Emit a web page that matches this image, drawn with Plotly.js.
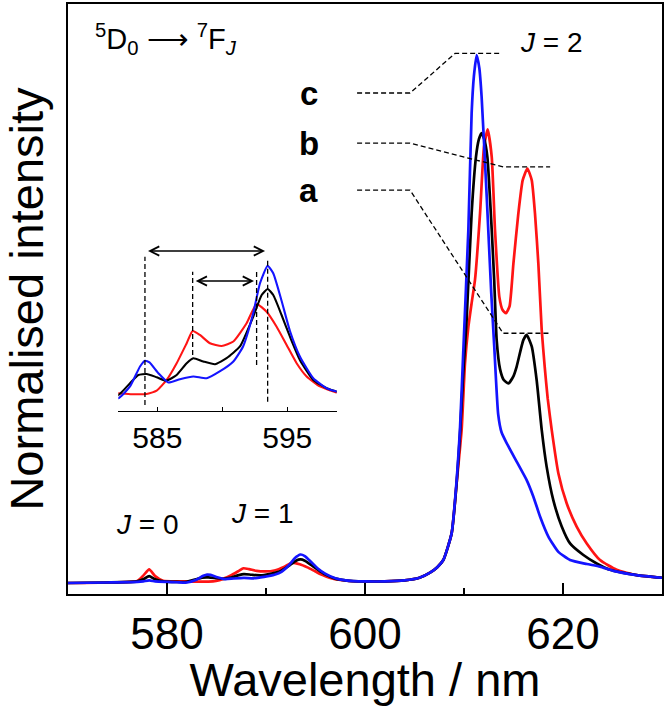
<!DOCTYPE html>
<html><head><meta charset="utf-8">
<script src="https://cdn.plot.ly/plotly-3.0.1.min.js"></script>
<style>html,body{margin:0;padding:0;background:#fff;}#chart{width:666px;height:706px;}</style>
</head><body><div id="chart"></div>
<script>
// ---- data ----
// sample c (blue)
const wlC = [570,574,577.0,577.6,578.2,578.8,580.0,581.0,582.0,582.9,583.67,584.05,584.4,585.08,585.85,586.74,587.77,588.8,589.8,590.85,591.6,592.38,592.9,593.49,593.92,594.56,595.2,595.97,597.0,598.03,598.8,600,602,604,605.5,606.57,607.3,607.91,608.75,609.26,609.59,609.93,610.44,610.77,611.0,611.28,611.55,611.78,612.3,612.75,613.05,613.45,613.8,614.31,615.32,616.33,617.0,617.68,618.52,619.53,620.71,622.4,623.74,625.09,627.44,630];
const intC = [0.000,0.001,0.002,0.003,0.005,0.003,0.002,0.0015,0.001,0.0057,0.0137,0.016,0.0153,0.011,0.0073,0.0086,0.0097,0.009,0.0117,0.0157,0.0217,0.035,0.047,0.054,0.051,0.040,0.028,0.0177,0.009,0.005,0.0037,0.003,0.003,0.005,0.010,0.0196,0.03,0.0436,0.094,0.195,0.29,0.44,0.669,0.889,0.96,1.0,0.975,0.921,0.73,0.55,0.45,0.32,0.285,0.265,0.230,0.195,0.164,0.126,0.088,0.059,0.0436,0.036,0.031,0.023,0.015,0.010];
// sample a (black)
const wlA = [570,574,577.0,577.6,578.2,578.8,579.6,581,582.0,582.9,583.54,584.18,584.95,585.7,586.49,587.26,587.77,588.54,589.44,590.33,591.36,592.38,593.03,593.49,593.92,594.56,595.2,595.97,597.0,598.03,598.8,600,602,604,605.5,606.57,607.3,607.91,608.75,609.26,609.59,609.93,610.27,610.77,611.21,611.5,611.78,612.05,612.36,612.8,613.05,613.3,613.64,614.0,614.48,615.0,615.32,615.99,616.33,616.84,617.34,617.85,618.35,619.02,619.87,620.71,622.06,623.4,624.75,627.44,630];
const intA = [0.000,0.001,0.003,0.007,0.013,0.007,0.003,0.002,0.0023,0.007,0.0103,0.0107,0.0094,0.008,0.0103,0.015,0.017,0.0157,0.0146,0.017,0.0217,0.0336,0.0423,0.0447,0.0423,0.0343,0.0257,0.0163,0.0083,0.005,0.0037,0.003,0.003,0.005,0.010,0.0196,0.03,0.0436,0.094,0.19,0.28,0.40,0.50,0.70,0.807,0.84,0.852,0.84,0.807,0.669,0.574,0.46,0.405,0.385,0.378,0.392,0.41,0.46,0.470,0.448,0.384,0.29,0.22,0.157,0.107,0.075,0.053,0.037,0.025,0.015,0.010];
// sample b (red)
const wlB = [570,574,577.0,577.6,578.2,578.8,579.6,581,582.0,583.15,584.18,584.95,585.72,586.49,587.26,587.72,588.28,589.05,589.95,590.85,591.87,592.64,593.41,594.18,594.95,595.72,596.49,597.51,598.8,600,602,604,605.5,606.57,607.3,607.91,608.75,609.26,609.76,610.1,610.44,610.77,611.11,611.62,612.02,612.39,612.8,613.13,613.57,613.9,614.24,614.6,614.99,615.49,615.93,616.4,616.84,617.17,617.51,617.85,618.15,618.45,618.86,619.53,620.37,621.38,622.4,623.74,625.42,627.44,630];
const intB = [0.000,0.001,0.004,0.014,0.026,0.013,0.004,0.003,0.003,0.0026,0.0027,0.004,0.0083,0.015,0.023,0.0279,0.0263,0.023,0.0219,0.0237,0.031,0.0387,0.0356,0.0296,0.0223,0.015,0.0097,0.0057,0.0033,0.003,0.003,0.005,0.010,0.0196,0.03,0.0436,0.094,0.19,0.29,0.416,0.485,0.53,0.574,0.70,0.826,0.859,0.807,0.669,0.542,0.517,0.511,0.524,0.605,0.70,0.763,0.785,0.763,0.70,0.605,0.479,0.41,0.35,0.29,0.208,0.151,0.107,0.075,0.0436,0.025,0.015,0.010];

// tick labels
const mainTicks = [580, 600, 620];
const mainMinorTicks = [590, 610];
const insetTicks = [585, 595];
const insetMinorTicks = [590];

// annotation texts
const sampleLabels = ['c', 'b', 'a'];
const bandLabels = ['<i>J</i> = 0', '<i>J</i> = 1', '<i>J</i> = 2'];
const transitionLabel = '<sup>5</sup>D<sub>0</sub> \u27F6 <sup>7</sup>F<sub><i>J</i></sub>';

// leader lines (c, b, a)
const leaderStartX = [599.2, 599.2, 599.2];
const leaderBendX = [604.55, 604.55, 604.55];
const leaderDiagEndX = [609.1, 613.95, 613.95];
const leaderEndX = [613.65, 618.7, 618.7];
const leaderLevels = [0.928, 0.833, 0.744];

// ---- helpers ----
function peak(xs, ys, lo, hi) {
  let bx = null, by = -Infinity;
  for (let i = 0; i < xs.length; i++) if (xs[i] >= lo && xs[i] <= hi && ys[i] > by) { by = ys[i]; bx = xs[i]; }
  return [bx, by];
}

const RED = '#ff1414', BLUE = '#1414ff', BLACK = '#000000';
const series = [
  {x: wlB, y: intB, color: RED},
  {x: wlA, y: intA, color: BLACK},
  {x: wlC, y: intC, color: BLUE}
];

const traces = [];
series.forEach(s => traces.push({x: s.x, y: s.y, type: 'scatter', mode: 'lines',
  line: {color: s.color, width: 2.7, shape: 'spline', smoothing: 0.5}, hoverinfo: 'skip', xaxis: 'x', yaxis: 'y'}));
series.forEach(s => traces.push({x: s.x, y: s.y, type: 'scatter', mode: 'lines',
  line: {color: s.color, width: 2.1, shape: 'spline', smoothing: 0.5}, hoverinfo: 'skip', xaxis: 'x2', yaxis: 'y2'}));

// peak levels for leader ends
const peakLevels = [
  peak(wlC, intC, 605, 630)[1],
  peak(wlB, intB, 615, 630)[1],
  peak(wlA, intA, 615, 630)[1]
];

const shapes = [];
const annotations = [];
const DASH = '5px,3px';
for (let i = 0; i < 3; i++) {
  const lvl = peakLevels[i] + 0.003;
  shapes.push({type: 'path', xref: 'x', yref: 'y',
    path: `M${leaderStartX[i]},${leaderLevels[i]} L${leaderBendX[i]},${leaderLevels[i]} L${leaderDiagEndX[i]},${lvl} L${leaderEndX[i]},${lvl}`,
    line: {color: '#000', width: 1.3, dash: DASH}});
  annotations.push({xref: 'x', yref: 'y', x: 594.3, y: leaderLevels[i], text: '<b>' + sampleLabels[i] + '</b>',
    showarrow: false, xanchor: 'center', yanchor: 'middle', font: {size: 33, color: '#000'}});
}

// inset markers
const insetLineX = [
  peak(wlC, intC, 583, 585.5)[0],
  peak(wlB, intB, 586, 589)[0],
  peak(wlB, intB, 591, 594.5)[0],
  peak(wlC, intC, 591, 595)[0]
];
const insetLineTop = [0.0576, 0.0516, 0.0516, 0.057];
const insetLineBottom = [-0.0017, 0.0183, 0.0143, -0.0004];
for (let i = 0; i < 4; i++) {
  shapes.push({type: 'line', xref: 'x2', yref: 'y2', x0: insetLineX[i], x1: insetLineX[i],
    y0: insetLineBottom[i], y1: insetLineTop[i], line: {color: '#000', width: 1.3, dash: DASH}});
}
const arrowLevels = [0.0599, 0.0479];
const arrowPairs = [[0, 3], [1, 2]];
arrowPairs.forEach((p, k) => {
  annotations.push({xref: 'x2', yref: 'y2', axref: 'x2', ayref: 'y2',
    x: insetLineX[p[1]] - 0.2, y: arrowLevels[k], ax: insetLineX[p[0]] + 0.12, ay: arrowLevels[k],
    text: '', showarrow: true, arrowhead: 5, startarrowhead: 5, arrowside: 'end+start',
    arrowsize: 1.3, startarrowsize: 1.3, arrowwidth: 1.4, arrowcolor: '#000', standoff: 0, startstandoff: 0});
});

// text labels
annotations.push({xref: 'paper', yref: 'paper', x: 0.042, y: 0.94, xanchor: 'left', yanchor: 'middle',
  text: transitionLabel, showarrow: false, font: {size: 29, color: '#000'}});
annotations.push({xref: 'paper', yref: 'paper', x: 0.133, y: 0.118, text: bandLabels[0], showarrow: false,
  xanchor: 'center', yanchor: 'middle', font: {size: 28, color: '#000'}});
annotations.push({xref: 'paper', yref: 'paper', x: 0.327, y: 0.1356, text: bandLabels[1], showarrow: false,
  xanchor: 'center', yanchor: 'middle', font: {size: 28, color: '#000'}});
annotations.push({xref: 'paper', yref: 'paper', x: 0.813, y: 0.935, text: bandLabels[2], showarrow: false,
  xanchor: 'center', yanchor: 'middle', font: {size: 28, color: '#000'}});

const layout = {
  width: 666, height: 706,
  margin: {l: 68, r: 4, t: 4, b: 112, pad: 0},
  paper_bgcolor: '#ffffff', plot_bgcolor: '#ffffff',
  showlegend: false,
  font: {family: 'Liberation Sans, Arial, sans-serif', color: '#000'},
  xaxis: {range: [570, 630], showline: true, mirror: true, linewidth: 2, linecolor: '#000',
    showgrid: false, zeroline: false, ticks: 'inside', tickvals: mainTicks, ticklen: 11, tickwidth: 2,
    tickcolor: '#000', tickfont: {size: 44},
    minor: {tickvals: mainMinorTicks, ticks: 'inside', ticklen: 6, tickwidth: 2, tickcolor: '#000', showgrid: false},
    title: {text: 'Wavelength / nm', font: {size: 47}, standoff: 8}, automargin: false},
  yaxis: {range: [-0.0208, 1.0966], showline: true, mirror: true, linewidth: 2, linecolor: '#000',
    showgrid: false, zeroline: false, showticklabels: false, ticks: '',
    title: {text: 'Normalised intensity', font: {size: 47}, standoff: 10}, automargin: false},
  xaxis2: {domain: [0.0847, 0.4523], anchor: 'y2', range: [582, 598.8], showline: true, linewidth: 1.5,
    linecolor: '#000', ticks: 'inside', ticklen: 4, tickwidth: 1.5, tickcolor: '#000',
    tickvals: insetTicks, tickfont: {size: 30}, showgrid: false, zeroline: false,
    minor: {tickvals: insetMinorTicks, ticks: 'inside', ticklen: 4, tickwidth: 1.5, tickcolor: '#000', showgrid: false}},
  yaxis2: {domain: [0.3107, 0.6169], anchor: 'x2', range: [-0.004, 0.0683], visible: false},
  shapes: shapes,
  annotations: annotations
};

Plotly.newPlot('chart', traces, layout, {staticPlot: true, displayModeBar: false});
</script>
</body></html>
